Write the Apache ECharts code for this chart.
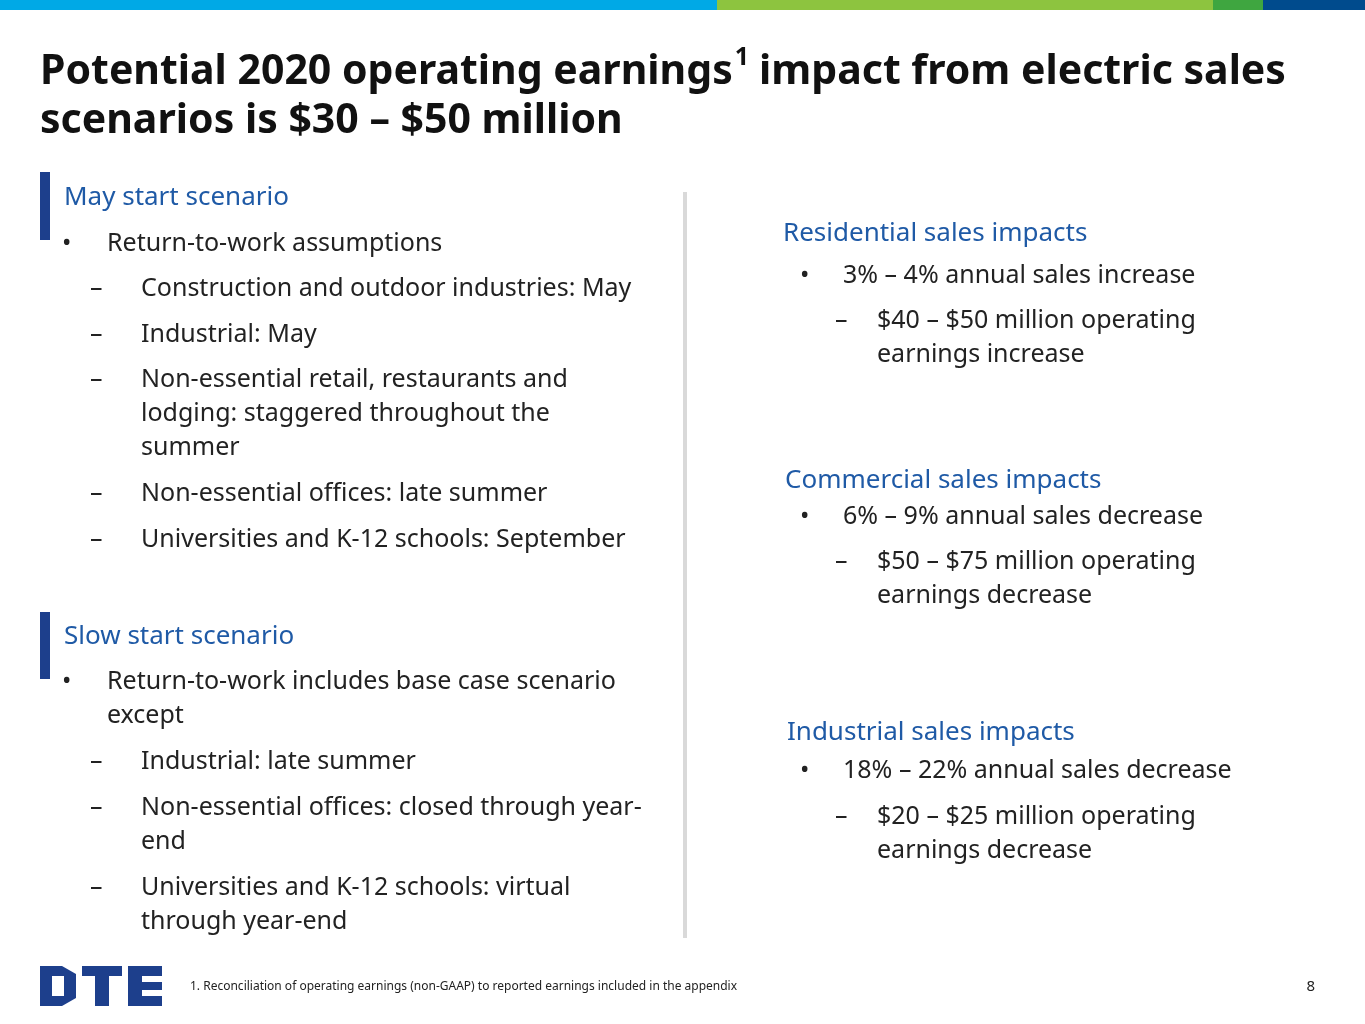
<!DOCTYPE html>
<html><head><meta charset="utf-8">
<script src="https://cdn.jsdelivr.net/npm/echarts@6/dist/echarts.min.js"></script>
<style>html,body{margin:0;padding:0;background:#fff}#c{width:1365px;height:1024px}</style>
</head><body><div id="c"></div>
<script>
// slide text
const titleLines = ['Potential 2020 operating earnings', 'scenarios is $30 \u2013 $50 million'];
const titleSup = '1';
const titleTail = 'impact from electric sales';
const mayHeader = 'May start scenario';
const mayBullet = ['Return-to-work assumptions'];
const mayDashes = [
  ['Construction and outdoor industries: May'],
  ['Industrial: May'],
  ['Non-essential retail, restaurants and', 'lodging: staggered throughout the', 'summer'],
  ['Non-essential offices: late summer'],
  ['Universities and K-12 schools: September']
];
const slowHeader = 'Slow start scenario';
const slowBullet = ['Return-to-work includes base case scenario', 'except'];
const slowDashes = [
  ['Industrial: late summer'],
  ['Non-essential offices: closed through year-', 'end'],
  ['Universities and K-12 schools: virtual', 'through year-end']
];
const sectors = ['Residential sales impacts', 'Commercial sales impacts', 'Industrial sales impacts'];
const sectorSales = ['3% \u2013 4% annual sales increase', '6% \u2013 9% annual sales decrease', '18% \u2013 22% annual sales decrease'];
const sectorEarnings = [
  ['$40 \u2013 $50 million operating', 'earnings increase'],
  ['$50 \u2013 $75 million operating', 'earnings decrease'],
  ['$20 \u2013 $25 million operating', 'earnings decrease']
];
const footnote = '1. Reconciliation of operating earnings (non-GAAP) to reported earnings included in the appendix';
const pageNo = '8';

const FONT = '"Noto Sans", sans-serif';
const BODY = '#222222', BLUE = '#1f5aa6', NAVY = '#1d3f8c';
const LH = 34;
const BF = '25px ' + FONT, HF = '26px ' + FONT;
const els = [];
function txt(x, y, s, o) {
  els.push({ type: 'text', x: x, y: y, style: Object.assign({ text: s, fill: BODY, font: BF, textVerticalAlign: 'middle' }, o || {}) });
}
function rect(x, y, w, h, c) {
  els.push({ type: 'rect', shape: { x: x, y: y, width: w, height: h }, style: { fill: c } });
}
function lines(x, y, arr, o) { arr.forEach((s, i) => txt(x, y + i * LH, s, o)); }

// top stripe
rect(0, 0, 717, 10, '#00a9e6'); rect(717, 0, 496, 10, '#8dc43f'); rect(1213, 0, 50, 10, '#3fa640'); rect(1263, 0, 102, 10, '#004b8d');

// title
const tf = 'bold 41px ' + FONT, sf = 'bold 25px ' + FONT;
const ctx = document.createElement('canvas').getContext('2d');
ctx.font = tf;
const w1 = ctx.measureText(titleLines[0]).width;
ctx.font = sf;
const ws = ctx.measureText(titleSup).width;
txt(40, 72, titleLines[0], { font: tf, fill: '#111' });
txt(40 + w1 + 2, 58, titleSup, { font: sf, fill: '#111' });
txt(40 + w1 + ws + 12, 72, titleTail, { font: tf, fill: '#111' });
txt(40, 121, titleLines[1], { font: tf, fill: '#111' });

// left column
rect(40, 172, 10, 68, NAVY);
txt(64, 198, mayHeader, { fill: BLUE, font: HF });
txt(62, 244, '\u2022'); lines(107, 244, mayBullet);
const mayY = [289, 335, 380, 494, 540];
mayDashes.forEach((d, i) => { txt(90, mayY[i], '\u2013'); lines(141, mayY[i], d); });

rect(40, 612, 10, 67, NAVY);
txt(64, 637, slowHeader, { fill: BLUE, font: HF });
txt(62, 682, '\u2022'); lines(107, 682, slowBullet);
const slowY = [762, 808, 888];
slowDashes.forEach((d, i) => { txt(90, slowY[i], '\u2013'); lines(141, slowY[i], d); });

// divider
rect(683, 192, 4, 746, '#d9d9d9');

// right column
const secY = [[234, 276, 321], [481, 517, 562], [733, 771, 817]];
const secX = [783, 785, 787];
sectors.forEach((s, i) => {
  txt(secX[i], secY[i][0], s, { fill: BLUE, font: HF });
  txt(800, secY[i][1], '\u2022'); txt(843, secY[i][1], sectorSales[i]);
  txt(835, secY[i][2], '\u2013'); lines(877, secY[i][2], sectorEarnings[i]);
});

// footer
els.push({ type: 'group', x: 40, y: 966, children: [
  { type: 'polygon', shape: { points: [[0,0],[22,0],[36,8],[36,32],[22,40],[0,40]] }, style: { fill: NAVY } },
  { type: 'rect', shape: { x: 12, y: 10, width: 12, height: 20 }, style: { fill: '#fff' } },
  { type: 'rect', shape: { x: 42, y: 0, width: 40, height: 10 }, style: { fill: NAVY } },
  { type: 'rect', shape: { x: 55, y: 0, width: 14, height: 40 }, style: { fill: NAVY } },
  { type: 'rect', shape: { x: 88, y: 0, width: 34, height: 40 }, style: { fill: NAVY } },
  { type: 'rect', shape: { x: 102, y: 10, width: 20, height: 6 }, style: { fill: '#fff' } },
  { type: 'rect', shape: { x: 102, y: 24, width: 20, height: 6 }, style: { fill: '#fff' } }
] });
txt(190, 987, footnote, { font: '12px ' + FONT });
txt(1315, 987, pageNo, { font: '15px ' + FONT, textAlign: 'right' });

const chart = echarts.init(document.getElementById('c'));
chart.setOption({ graphic: { elements: els } });
</script></body></html>
